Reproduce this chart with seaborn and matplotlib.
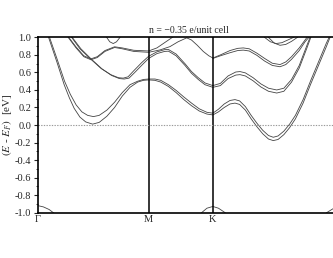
import pandas as pd
import seaborn as sns
import matplotlib.pyplot as plt

# high symmetry points along the path (Gamma - M - K - Gamma)
kpoints = [0.0, 0.577, 0.911, 1.577]
klabels = ['Γ', 'M', 'K', '']  # last Gamma lies outside the cropped picture
title = 'n = −0.35 e/unit cell'

# bands, (k, E - E_F)
a_lower = [(0.0, 1.35), (0.057, 1.0), (0.10, 0.72), (0.138, 0.46), (0.165, 0.31), (0.19, 0.19),
           (0.22, 0.09), (0.25, 0.035), (0.286, 0.01), (0.32, 0.03), (0.36, 0.10), (0.40, 0.20),
           (0.44, 0.33), (0.48, 0.43), (0.52, 0.49), (0.55, 0.51), (0.577, 0.515),
           (0.61, 0.51), (0.64, 0.49), (0.68, 0.44), (0.72, 0.37), (0.76, 0.29), (0.80, 0.22),
           (0.84, 0.16), (0.88, 0.125), (0.911, 0.115),
           (0.94, 0.15), (0.97, 0.20), (1.00, 0.24), (1.026, 0.25), (1.05, 0.235), (1.08, 0.17),
           (1.11, 0.07), (1.14, -0.02), (1.17, -0.10), (1.20, -0.16), (1.225, -0.178), (1.25, -0.165),
           (1.28, -0.11), (1.31, -0.03), (1.34, 0.07), (1.38, 0.25), (1.42, 0.47), (1.46, 0.68),
           (1.50, 0.89), (1.52, 1.0), (1.577, 1.35)]
a_upper = [(0.0, 1.37), (0.062, 1.0), (0.10, 0.76), (0.14, 0.50), (0.17, 0.35), (0.20, 0.23),
           (0.23, 0.15), (0.26, 0.11), (0.29, 0.096), (0.32, 0.11), (0.36, 0.17), (0.40, 0.26),
           (0.44, 0.37), (0.48, 0.46), (0.52, 0.50), (0.55, 0.52), (0.577, 0.525),
           (0.61, 0.525), (0.64, 0.51), (0.68, 0.46), (0.72, 0.395), (0.76, 0.32), (0.80, 0.25),
           (0.84, 0.185), (0.88, 0.145), (0.911, 0.135),
           (0.94, 0.18), (0.97, 0.24), (1.00, 0.28), (1.026, 0.29), (1.05, 0.275), (1.08, 0.21),
           (1.11, 0.11), (1.14, 0.02), (1.17, -0.06), (1.20, -0.12), (1.225, -0.14), (1.25, -0.125),
           (1.28, -0.07), (1.31, 0.01), (1.34, 0.11), (1.38, 0.29), (1.42, 0.51), (1.46, 0.72),
           (1.50, 0.93), (1.515, 1.0), (1.577, 1.37)]
b_one = [(0.10, 1.25), (0.177, 1.0), (0.22, 0.87), (0.277, 0.75), (0.33, 0.645), (0.38, 0.575),
         (0.42, 0.54), (0.445, 0.535), (0.47, 0.55), (0.50, 0.62), (0.54, 0.71), (0.577, 0.785),
         (0.62, 0.835), (0.66, 0.86), (0.68, 0.862), (0.72, 0.81), (0.766, 0.70), (0.80, 0.61),
         (0.835, 0.54), (0.87, 0.48), (0.911, 0.45), (0.95, 0.475), (0.99, 0.56), (1.03, 0.605),
         (1.052, 0.61), (1.08, 0.595), (1.12, 0.54), (1.16, 0.47), (1.20, 0.42), (1.243, 0.40),
         (1.28, 0.42), (1.32, 0.52), (1.36, 0.68), (1.40, 0.91), (1.416, 1.0), (1.46, 1.3)]
b_two = [(0.10, 1.27), (0.18, 1.0), (0.225, 0.87), (0.28, 0.75), (0.335, 0.64), (0.385, 0.565),
         (0.425, 0.53), (0.45, 0.525), (0.475, 0.535), (0.505, 0.60), (0.545, 0.69), (0.577, 0.76),
         (0.62, 0.815), (0.66, 0.84), (0.68, 0.843), (0.72, 0.79), (0.766, 0.68), (0.80, 0.59),
         (0.835, 0.52), (0.87, 0.46), (0.911, 0.43), (0.95, 0.45), (0.99, 0.53), (1.03, 0.57),
         (1.052, 0.575), (1.08, 0.56), (1.12, 0.505), (1.16, 0.435), (1.20, 0.385), (1.243, 0.365),
         (1.28, 0.385), (1.32, 0.49), (1.36, 0.65), (1.40, 0.88), (1.42, 1.0), (1.465, 1.3)]
c_one = [(0.10, 1.3), (0.159, 1.0), (0.20, 0.88), (0.24, 0.78), (0.277, 0.745), (0.31, 0.77),
         (0.35, 0.84), (0.40, 0.885), (0.44, 0.87), (0.50, 0.84), (0.577, 0.83), (0.636, 0.857),
         (0.688, 0.895), (0.73, 0.95), (0.775, 0.995), (0.80, 0.97), (0.83, 0.91), (0.861, 0.84),
         (0.89, 0.79), (0.911, 0.765), (0.95, 0.80), (1.00, 0.85), (1.04, 0.875), (1.069, 0.88),
         (1.10, 0.87), (1.14, 0.82), (1.18, 0.76), (1.22, 0.705), (1.26, 0.69), (1.29, 0.72),
         (1.32, 0.78), (1.36, 0.88), (1.40, 1.0), (1.44, 1.15)]
c_two = [(0.10, 1.32), (0.162, 1.0), (0.20, 0.89), (0.24, 0.79), (0.277, 0.755), (0.31, 0.78),
         (0.35, 0.85), (0.40, 0.893), (0.44, 0.88), (0.50, 0.853), (0.577, 0.845), (0.62, 0.88),
         (0.66, 0.94), (0.70, 1.0), (0.73, 1.05)]
c_three = [(0.911, 0.76), (0.95, 0.79), (1.00, 0.825), (1.04, 0.85), (1.069, 0.855), (1.10, 0.845),
           (1.14, 0.795), (1.18, 0.73), (1.22, 0.68), (1.26, 0.665), (1.29, 0.69), (1.32, 0.75),
           (1.36, 0.85), (1.39, 0.95), (1.41, 1.0), (1.45, 1.15)]
d_dip = [(0.345, 1.08), (0.359, 1.0), (0.375, 0.95), (0.393, 0.93), (0.41, 0.95), (0.428, 1.0),
         (0.44, 1.08)]
f_one = [(1.15, 1.1), (1.18, 1.0), (1.21, 0.95), (1.24, 0.93), (1.27, 0.94), (1.30, 0.97),
         (1.33, 1.0), (1.36, 1.05)]
f_two = [(1.17, 1.1), (1.20, 1.0), (1.23, 0.935), (1.26, 0.91), (1.29, 0.92), (1.32, 0.955),
         (1.35, 1.0), (1.38, 1.06)]
low_band = [(0.0, -0.92), (0.03, -0.935), (0.06, -0.965), (0.081, -1.0), (0.12, -1.08),
            (0.577, -1.3), (0.82, -1.1), (0.853, -1.0), (0.88, -0.95), (0.911, -0.93),
            (0.94, -0.95), (0.974, -1.0), (1.02, -1.1), (1.3, -1.3), (1.46, -1.1), (1.503, -1.0),
            (1.54, -0.95), (1.577, -0.92)]

bands = {'a1': a_lower, 'a2': a_upper, 'b1': b_one, 'b2': b_two, 'c1': c_one, 'c2': c_two,
         'c3': c_three, 'd': d_dip, 'f1': f_one, 'f2': f_two, 'low': low_band}
rows = []
for name, pts in bands.items():
    for i, (k, e) in enumerate(pts):
        rows.append({'band': name, 'order': i, 'k': k, 'E': e})
df = pd.DataFrame(rows)

sns.set_style('ticks')
plt.rcParams['font.family'] = ['Liberation Serif', 'DejaVu Serif']
plt.rcParams['mathtext.fontset'] = 'stix'
plt.rcParams['axes.unicode_minus'] = False

fig = plt.figure(figsize=(3.33, 2.58), dpi=100)
ax = fig.add_axes([0.113, 0.176, 0.911, 0.679])

sns.lineplot(data=df, x='k', y='E', units='band', estimator=None, sort=False,
             color='#444444', linewidth=0.6, ax=ax, legend=False)

for kp in kpoints[1:3]:
    ax.axvline(kp, color='black', linewidth=1.1)
ax.axhline(0.0, color='#999999', linestyle=(0, (1.2, 1.2)), linewidth=0.8)

ax.set_xlim(kpoints[0], kpoints[-1])
ax.set_ylim(-1.0, 1.0)
ax.set_xticks(kpoints)
ax.set_xticklabels(klabels)
ax.set_yticks([i / 5 - 1 for i in range(11)])
ax.set_yticklabels(['%.1f' % (i / 5 - 1) for i in range(11)])
ax.set_yticks([i / 10 - 1 for i in range(21)], minor=True)
ax.tick_params(axis='x', length=0, pad=2, labelsize=7.5)
ax.tick_params(axis='y', which='major', length=3, width=0.8, pad=1.5, labelsize=7.5, direction='out')
ax.tick_params(axis='y', which='minor', length=1.5, width=0.6, direction='out')
for sp in ax.spines.values():
    sp.set_linewidth(1.2)
    sp.set_color('black')

ax.set_xlabel('')
ax.set_ylabel(r'$(E$ - $E_F)$  [eV]', fontsize=8)
ax.yaxis.set_label_coords(-0.079, 0.5)
ax.set_title(title, fontsize=7, pad=3)

fig.savefig('out.png', dpi=100)
